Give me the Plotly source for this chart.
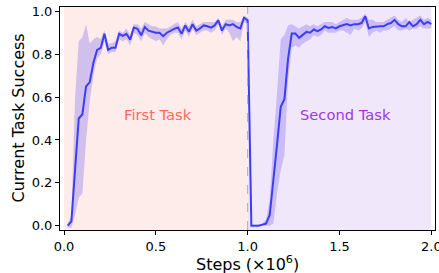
import plotly.graph_objects as go

# ---------------- data ----------------
steps = [round(0.02 * i, 2) for i in range(1, 101)]  # x10^6

task1_mean = [0.00, 0.02, 0.26, 0.50, 0.52, 0.65, 0.67, 0.76, 0.82, 0.83,
              0.895, 0.82, 0.83, 0.83, 0.895, 0.885, 0.895, 0.868, 0.924, 0.918,
              0.888, 0.927, 0.91, 0.904, 0.90, 0.90, 0.884, 0.90, 0.91, 0.918,
              0.924, 0.895, 0.934, 0.904, 0.94, 0.91, 0.92, 0.934, 0.93, 0.924,
              0.934, 0.958, 0.91, 0.94, 0.934, 0.94, 0.927, 0.92, 0.97, 0.958]
task1_low = [-0.01, -0.01, 0.05, 0.13, 0.15, 0.40, 0.58, 0.70, 0.78, 0.80,
             0.86, 0.80, 0.81, 0.81, 0.87, 0.86, 0.87, 0.84, 0.90, 0.89,
             0.86, 0.90, 0.88, 0.87, 0.86, 0.87, 0.84, 0.87, 0.89, 0.90,
             0.90, 0.87, 0.91, 0.88, 0.92, 0.89, 0.90, 0.91, 0.91, 0.90,
             0.91, 0.94, 0.89, 0.92, 0.90, 0.86, 0.88, 0.86, 0.95, 0.94]
task1_high = [0.01, 0.05, 0.60, 0.86, 0.88, 0.94, 0.85, 0.87, 0.88, 0.87,
              0.91, 0.85, 0.85, 0.86, 0.91, 0.90, 0.92, 0.89, 0.94, 0.94,
              0.92, 0.95, 0.94, 0.93, 0.93, 0.92, 0.92, 0.92, 0.93, 0.94,
              0.95, 0.92, 0.95, 0.93, 0.96, 0.93, 0.94, 0.95, 0.95, 0.95,
              0.95, 0.97, 0.93, 0.96, 0.96, 0.96, 0.95, 0.95, 0.98, 0.97]

task2_mean = [0.00, 0.00, 0.00, 0.005, 0.01, 0.05, 0.20, 0.38, 0.555, 0.59,
              0.78, 0.896, 0.896, 0.876, 0.89, 0.904, 0.90, 0.915, 0.907, 0.915,
              0.93, 0.922, 0.927, 0.92, 0.93, 0.934, 0.94, 0.934, 0.94, 0.94,
              0.945, 0.977, 0.92, 0.927, 0.93, 0.93, 0.93, 0.94, 0.945, 0.96,
              0.94, 0.93, 0.93, 0.95, 0.93, 0.94, 0.96, 0.94, 0.95, 0.94]
task2_low = [0.00, 0.00, 0.00, 0.00, 0.00, 0.00, 0.01, 0.15, 0.26, 0.33,
             0.68, 0.83, 0.84, 0.83, 0.85, 0.86, 0.87, 0.89, 0.88, 0.89,
             0.91, 0.90, 0.90, 0.90, 0.91, 0.91, 0.90, 0.89, 0.92, 0.91,
             0.92, 0.95, 0.88, 0.90, 0.91, 0.90, 0.91, 0.91, 0.92, 0.93,
             0.91, 0.91, 0.92, 0.91, 0.92, 0.92, 0.93, 0.92, 0.92, 0.92]
task2_high = [0.005, 0.005, 0.005, 0.01, 0.03, 0.12, 0.40, 0.62, 0.87, 0.89,
              0.935, 0.94, 0.93, 0.92, 0.93, 0.94, 0.93, 0.94, 0.93, 0.94,
              0.95, 0.95, 0.95, 0.94, 0.95, 0.96, 0.97, 0.96, 0.96, 0.96,
              0.97, 0.99, 0.96, 0.96, 0.95, 0.95, 0.95, 0.96, 0.97, 0.98,
              0.96, 0.95, 0.97, 0.95, 0.96, 0.97, 0.98, 0.96, 0.97, 0.96]

mean = task1_mean + task2_mean
low = task1_low + task2_low
high = task1_high + task2_high

tasks = ["First Task", "Second Task"]
task_spans = [(0.0, 1.0), (1.0, 2.0)]
task_label_x = [0.51, 1.535]
task_label_y = 0.52
x_ticks = [0.0, 0.5, 1.0, 1.5, 2.0]
y_ticks = [0.0, 0.2, 0.4, 0.6, 0.8, 1.0]
x_title = "Steps (×10<sup>6</sup>)"
y_title = "Current Task Success"

# ---------------- styles ----------------
FONT = "DejaVu Sans"
bg_colors = ["#fdecea", "#f0e7fb"]
text_colors = ["#ff6a5e", "#a236e4"]
band_color = "rgba(120,100,240,0.32)"
line_color = "rgb(60,60,250)"

fig = go.Figure()

fig.add_trace(go.Scatter(x=steps, y=low, mode="lines", line=dict(width=0),
                         hoverinfo="skip", showlegend=False))
fig.add_trace(go.Scatter(x=steps, y=high, mode="lines", line=dict(width=0),
                         fill="tonexty", fillcolor=band_color,
                         hoverinfo="skip", showlegend=False))
fig.add_trace(go.Scatter(x=steps, y=mean, mode="lines",
                         line=dict(color=line_color, width=2),
                         showlegend=False))

shapes = []
for (x0, x1), c in zip(task_spans, bg_colors):
    shapes.append(dict(type="rect", xref="x", yref="paper", x0=x0, x1=x1,
                       y0=0, y1=1, fillcolor=c, line=dict(width=0),
                       layer="below"))
shapes.append(dict(type="line", xref="x", yref="paper", x0=1.0, x1=1.0,
                   y0=0, y1=1, line=dict(color="#aaaaaa", width=1, dash="dash")))

annotations = []
for name, lx, c in zip(tasks, task_label_x, text_colors):
    annotations.append(dict(x=lx, y=task_label_y, xref="x", yref="y",
                            text=name, showarrow=False,
                            font=dict(family=FONT, size=14.7, color=c)))
annotations.append(dict(x=1.0, y=-0.205, xref="x", yref="paper",
                        xanchor="center", yanchor="bottom", text=x_title,
                        showarrow=False, font=dict(family=FONT, size=16)))
annotations.append(dict(x=0, y=0.5, xref="paper", yref="paper",
                        xanchor="center", yanchor="middle", xshift=-42,
                        textangle=-90, text=y_title, showarrow=False,
                        font=dict(family=FONT, size=16)))

fig.update_layout(
    width=439, height=273,
    margin=dict(l=60, r=4, t=7, b=43),
    paper_bgcolor="white", plot_bgcolor="white",
    shapes=shapes, annotations=annotations,
    font=dict(family=FONT, size=13, color="black"),
    xaxis=dict(range=[-0.022, 2.02], tickvals=x_ticks,
               ticktext=[f"{v:.1f}" for v in x_ticks],
               showgrid=False, zeroline=False, showline=True, linecolor="black",
               linewidth=1, mirror=True, ticks="outside", ticklen=4,
               tickcolor="black", automargin=False,
               ticklabeloverflow="allow", tickfont=dict(size=13)),
    yaxis=dict(range=[-0.02, 1.02], tickvals=y_ticks,
               ticktext=[f"{v:.1f}" for v in y_ticks],
               showgrid=False, zeroline=False, showline=True, linecolor="black",
               linewidth=1, mirror=True, ticks="outside", ticklen=4,
               tickcolor="black", automargin=False,
               ticklabeloverflow="allow", tickfont=dict(size=13)),
)

fig.write_html("out.html",
               config={"displayModeBar": False},
               post_script="document.body.style.margin='0';"
                           "document.body.style.padding='0';"
                           "document.documentElement.style.overflow='hidden';")
